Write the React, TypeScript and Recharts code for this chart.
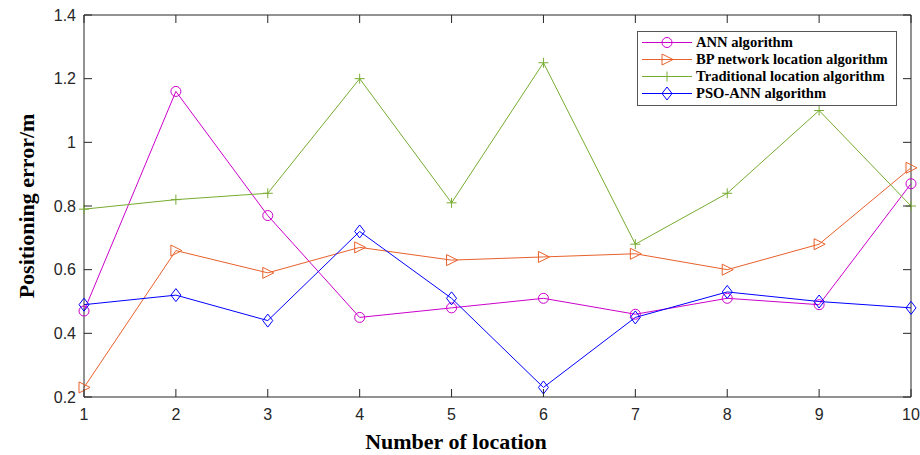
import { LineChart, Line, XAxis, YAxis, Label, ReferenceLine } from "recharts";

const locations = [1, 2, 3, 4, 5, 6, 7, 8, 9, 10];
const annError = [0.47, 1.16, 0.77, 0.45, 0.48, 0.51, 0.46, 0.51, 0.49, 0.87];
const bpError = [0.23, 0.66, 0.59, 0.67, 0.63, 0.64, 0.65, 0.6, 0.68, 0.92];
const traditionalError = [0.79, 0.82, 0.84, 1.2, 0.81, 1.25, 0.68, 0.84, 1.1, 0.8];
const psoAnnError = [0.49, 0.52, 0.44, 0.72, 0.51, 0.23, 0.45, 0.53, 0.5, 0.48];
const yTicks = [0.2, 0.4, 0.6, 0.8, 1, 1.2, 1.4];

const series = [
  { key: "ann", name: "ANN algorithm", color: "#CC00CC", marker: "circle" },
  { key: "bp", name: "BP network location algorithm", color: "#E8602A", marker: "triangle" },
  { key: "trad", name: "Traditional location algorithm", color: "#77AC30", marker: "plus" },
  { key: "pso", name: "PSO-ANN algorithm", color: "#0000FF", marker: "diamond" },
];

const data = locations.map((loc, i) => ({
  loc,
  ann: annError[i],
  bp: bpError[i],
  trad: traditionalError[i],
  pso: psoAnnError[i],
}));

const W = 920;
const H = 455;
const MARGIN = { top: 15, right: 9, bottom: 0, left: 0 };
const PLOT_TOP = MARGIN.top;
const PLOT_RIGHT = W - MARGIN.right;
const AXIS = "#262626";
const TICK_LEN = 8;
const SERIF = "Liberation Serif, 'Times New Roman', serif";
const SANS = "Liberation Sans, Arial, sans-serif";

function Marker({ type, cx, cy, color }: { type: string; cx: number; cy: number; color: string }) {
  const p = { stroke: color, strokeWidth: 1, fill: "none" };
  if (type === "circle") return <circle cx={cx} cy={cy} r={5} {...p} />;
  if (type === "triangle")
    return <polygon points={`${cx - 5},${cy - 5.5} ${cx + 6},${cy} ${cx - 5},${cy + 5.5}`} {...p} />;
  if (type === "plus")
    return <path d={`M${cx - 5},${cy}L${cx + 5},${cy}M${cx},${cy - 5}L${cx},${cy + 5}`} {...p} />;
  return <polygon points={`${cx},${cy - 6.5} ${cx + 5},${cy} ${cx},${cy + 6.5} ${cx - 5},${cy}`} {...p} />;
}

const fmt = (v: number) => String(+v.toFixed(1));

// bottom tick also draws the matching inward tick on the top frame edge
function BottomTick({ x, y, payload }: any) {
  return (
    <g>
      <line x1={x} y1={y} x2={x} y2={y - TICK_LEN} stroke={AXIS} />
      <line x1={x} y1={PLOT_TOP} x2={x} y2={PLOT_TOP + TICK_LEN} stroke={AXIS} />
      <text x={x} y={y + 23} textAnchor="middle" fontSize={16} fill={AXIS} fontFamily={SANS}>
        {payload.value}
      </text>
    </g>
  );
}

// left tick also draws the matching inward tick on the right frame edge
function LeftTick({ x, y, payload }: any) {
  return (
    <g>
      <line x1={x} y1={y} x2={x + TICK_LEN} y2={y} stroke={AXIS} />
      <line x1={PLOT_RIGHT} y1={y} x2={PLOT_RIGHT - TICK_LEN} y2={y} stroke={AXIS} />
      <text x={x - 8} y={y + 5.5} textAnchor="end" fontSize={16} fill={AXIS} fontFamily={SANS}>
        {fmt(payload.value)}
      </text>
    </g>
  );
}

function LegendBox() {
  return (
    <div
      style={{
        position: "absolute",
        left: 637,
        top: 31,
        border: "1px solid #555",
        background: "#fff",
        width: 258,
        padding: "2px 0 3px 0",
        fontFamily: SERIF,
        fontWeight: "bold",
        fontSize: 14.6,
        color: "#000",
      }}
    >
      {series.map((s) => (
        <div key={s.key} style={{ display: "flex", alignItems: "center", height: 17 }}>
          <svg width={58} height={17} style={{ flex: "none" }}>
            <line x1={4} y1={8.5} x2={54} y2={8.5} stroke={s.color} />
            <Marker type={s.marker} cx={29} cy={8.5} color={s.color} />
          </svg>
          <span style={{ whiteSpace: "nowrap" }}>{s.name}</span>
        </div>
      ))}
    </div>
  );
}

export default function App() {
  return (
    <div style={{ position: "absolute", left: 0, top: 0, width: W, height: H, background: "#fff" }}>
      <LineChart width={W} height={H} data={data} margin={MARGIN}>
        <XAxis
          dataKey="loc"
          type="number"
          domain={[1, 10]}
          ticks={locations}
          height={58}
          tickSize={0}
          tickMargin={0}
          tick={<BottomTick />}
          axisLine={{ stroke: AXIS }}
          tickLine={false}
        >
          <Label
            content={() => (
              <text x={456} y={449} textAnchor="middle" fontSize={22} fontWeight="bold" fontFamily={SERIF} fill="#000">
                Number of location
              </text>
            )}
          />
        </XAxis>
        <YAxis
          type="number"
          domain={[0.2, 1.4]}
          ticks={yTicks}
          width={84}
          tickSize={0}
          tickMargin={0}
          tick={<LeftTick />}
          axisLine={{ stroke: AXIS }}
          tickLine={false}
        >
          <Label
            content={({ viewBox }: any) => {
              const cy = viewBox.y + viewBox.height / 2;
              return (
                <text
                  x={34}
                  y={cy}
                  transform={`rotate(-90, 34, ${cy})`}
                  textAnchor="middle"
                  fontSize={22}
                  fontWeight="bold"
                  fontFamily={SERIF}
                  fill="#000"
                >
                  Positioning error/m
                </text>
              );
            }}
          />
        </YAxis>
        <ReferenceLine y={1.4} stroke={AXIS} ifOverflow="visible" />
        <ReferenceLine x={10} stroke={AXIS} ifOverflow="visible" />
        {series.map((s) => (
          <Line
            key={s.key}
            dataKey={s.key}
            name={s.name}
            stroke={s.color}
            strokeWidth={1}
            isAnimationActive={false}
            dot={(props: any) => (
              <Marker key={`${s.key}-${props.index}`} type={s.marker} cx={props.cx} cy={props.cy} color={s.color} />
            )}
            activeDot={false}
          />
        ))}
      </LineChart>
      <LegendBox />
    </div>
  );
}
